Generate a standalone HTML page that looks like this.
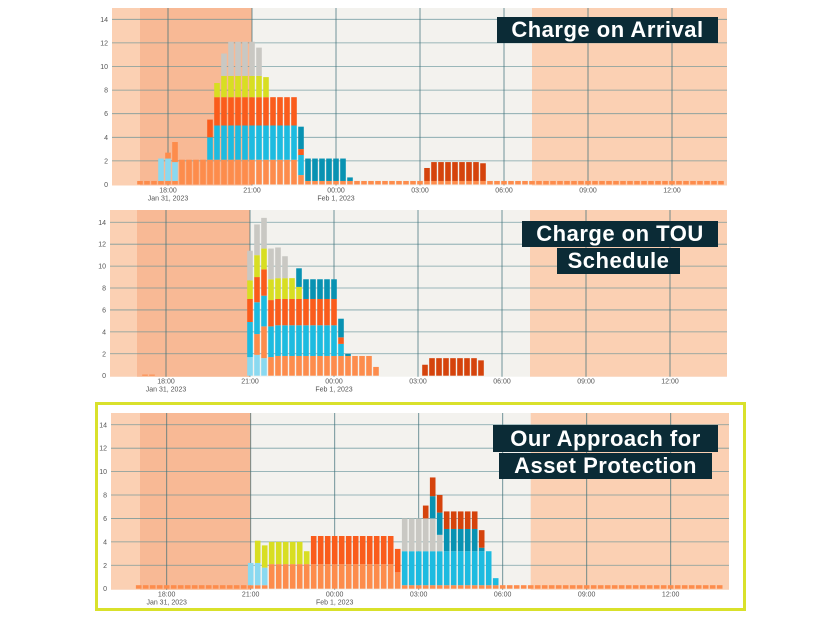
<!DOCTYPE html>
<html><head><meta charset="utf-8"><style>
body{margin:0;background:#fff;width:826px;height:620px;overflow:hidden}
svg{display:block}
.t{font-family:"Liberation Sans",sans-serif;font-size:7px;fill:#555}
.h{font-family:"Liberation Sans",sans-serif;font-size:22px;font-weight:bold;fill:#fff;letter-spacing:0.5px}
</style></head><body>
<svg id="s" width="826" height="620" xmlns="http://www.w3.org/2000/svg"></svg>
<script>
const C={lo:'#fd8c4c',or:'#fa5c1c',bl:'#1dbbe0',te:'#0892b2',lb:'#8ad9f0',ye:'#d8de22',gr:'#c9c8c3',dk:'#d5430c'};
const s=document.getElementById('s');let h='';
function chart(p,data,base){
 const X=i=>p.x18+7*i, Y=v=>p.y0-v*p.ppu;
 const b=p.y0+1;
 h+=`<rect x="${p.left}" y="${p.top}" width="${p.right-p.left}" height="${b-p.top}" fill="#f3f2ee"/>`;
 h+=`<rect x="${p.left}" y="${p.top}" width="${X(12)-p.left}" height="${b-p.top}" fill="#fbd0b3"/>`;
 h+=`<rect x="${p.band}" y="${p.top}" width="${X(12)-p.band}" height="${b-p.top}" fill="#f8b995"/>`;
 h+=`<rect x="${X(52)}" y="${p.top}" width="${p.right-X(52)}" height="${b-p.top}" fill="#fbd0b3"/>`;
 for(let v=2;v<=14;v+=2)h+=`<line x1="${p.left}" x2="${p.right}" y1="${Y(v)}" y2="${Y(v)}" stroke="#5f8f96" stroke-width="0.8" opacity="0.8"/>`;
 const labs=['18:00','21:00','00:00','03:00','06:00','09:00','12:00'];
 for(let k=0;k<7;k++){const x=X(12*k);h+=`<line x1="${x}" x2="${x}" y1="${p.top}" y2="${b}" stroke="#3d6f78" stroke-width="0.9" opacity="0.8"/>`;
  h+=`<text class="t" x="${x}" y="${b+7}" text-anchor="middle">${labs[k]}</text>`;}
 h+=`<text class="t" x="${X(0)}" y="${b+15}" text-anchor="middle">Jan 31, 2023</text>`;
 h+=`<text class="t" x="${X(24)}" y="${b+15}" text-anchor="middle">Feb 1, 2023</text>`;
 for(let v=0;v<=14;v+=2)h+=`<text class="t" x="${p.left-4}" y="${Y(v)+2.5}" text-anchor="end">${v}</text>`;
 for(let i=-4;i<=79;i++){
  let segs=data[i]||(base&&i>=base[0]&&i<=base[1]?[['lo',0.3]]:null);
  if(!segs)continue;let prev=0;
  for(const [c,t] of segs){if(t>prev)h+=`<rect x="${X(i)-2.8}" y="${Y(t)}" width="5.6" height="${(t-prev)*p.ppu}" fill="${C[c]}"/>`;prev=t;}
 }
}
function R(a,b,segs,d){for(let i=a;i<=b;i++)d[i]=segs;}
// chart1
let d1={};
R(-1,-1,[['lo',0.3],['lb',2.2]],d1);d1[0]=[['lo',0.3],['lb',2.2],['lo',2.7]];d1[1]=[['lo',0.3],['lb',1.9],['lo',3.6]];
R(2,5,[['lo',2.1]],d1);d1[6]=[['lo',2.1],['bl',4.0],['or',5.5]];d1[7]=[['lo',2.1],['bl',5],['or',7.4],['ye',8.6]];
d1[8]=[['lo',2.1],['bl',5],['or',7.4],['ye',9.2],['gr',11.1]];R(9,12,[['lo',2.1],['bl',5],['or',7.4],['ye',9.2],['gr',12.1]],d1);
d1[13]=[['lo',2.1],['bl',5],['or',7.4],['ye',9.2],['gr',11.6]];d1[14]=[['lo',2.1],['bl',5],['or',7.4],['ye',9.1]];
R(15,18,[['lo',2.1],['bl',5],['or',7.4]],d1);d1[19]=[['lo',0.8],['bl',2.5],['or',3.0],['te',4.9]];
R(20,25,[['lo',0.3],['te',2.2]],d1);d1[26]=[['lo',0.3],['te',0.6]];
d1[37]=[['lo',0.3],['dk',1.4]];R(38,44,[['lo',0.3],['dk',1.9]],d1);d1[45]=[['lo',0.3],['dk',1.8]];
chart({top:8,y0:184.5,ppu:11.8,x18:168,left:112,right:727,band:140},d1,[-4,79]);
// chart2
let d2={};
d2[-3]=[['lo',0.1]];d2[-2]=[['lo',0.1]];
d2[12]=[['lb',1.7],['bl',4.9],['or',7.0],['ye',8.7],['gr',11.4]];
d2[13]=[['lb',1.9],['lo',3.8],['bl',6.7],['or',9.0],['ye',11.0],['gr',13.8]];
d2[14]=[['lb',1.6],['lo',4.5],['bl',7.3],['or',9.7],['ye',11.6],['gr',14.4]];
d2[15]=[['lo',1.7],['bl',4.5],['or',6.9],['ye',8.8],['gr',11.6]];
d2[16]=[['lo',1.8],['bl',4.6],['or',7.0],['ye',8.9],['gr',11.7]];
d2[17]=[['lo',1.8],['bl',4.6],['or',7.0],['ye',8.9],['gr',10.9]];
d2[18]=[['lo',1.8],['bl',4.6],['or',7.0],['ye',8.9]];
d2[19]=[['lo',1.8],['bl',4.6],['or',7.0],['ye',8.1],['te',9.8]];
R(20,24,[['lo',1.8],['bl',4.6],['or',7.0],['te',8.8]],d2);
d2[25]=[['lo',1.8],['bl',2.9],['or',3.5],['te',5.2]];d2[26]=[['lo',1.8],['te',2.0]];
R(27,29,[['lo',1.8]],d2);d2[30]=[['lo',0.8]];
d2[37]=[['dk',1.0]];R(38,44,[['dk',1.6]],d2);d2[45]=[['dk',1.4]];
chart({top:210,y0:375.7,ppu:10.96,x18:166,left:110,right:727,band:137},d2,null);
// chart3
let d3={};
d3[12]=[['lo',0.3],['lb',2.2]];d3[13]=[['lo',0.3],['lb',2.2],['ye',4.1]];d3[14]=[['lo',0.3],['lb',1.8],['ye',3.7]];
R(15,19,[['lo',2.1],['ye',4.0]],d3);d3[20]=[['lo',2.1],['ye',3.2]];
R(21,32,[['lo',2.1],['or',4.5]],d3);d3[33]=[['lo',1.4],['or',3.4]];
R(34,36,[['lo',0.3],['bl',3.2],['gr',6.0]],d3);d3[37]=[['lo',0.3],['bl',3.2],['gr',6.0],['dk',7.1]];
d3[38]=[['lo',0.3],['bl',3.2],['gr',6.0],['te',7.9],['dk',9.5]];
d3[39]=[['lo',0.3],['bl',3.2],['gr',4.6],['te',6.5],['dk',8.0]];
R(40,44,[['lo',0.3],['bl',3.2],['te',5.1],['dk',6.6]],d3);
d3[45]=[['lo',0.3],['bl',3.2],['te',3.5],['dk',5.0]];d3[46]=[['lo',0.3],['bl',3.2]];d3[47]=[['lo',0.3],['bl',0.9]];
chart({top:413,y0:588.7,ppu:11.71,x18:166.7,left:111,right:729,band:140},d3,[-4,79]);
// titles
function T(x,y,w,hh,txt){h+=`<rect x="${x}" y="${y}" width="${w}" height="${hh}" fill="#0b2b36"/><text class="h" x="${x+w/2}" y="${y+hh-6}" text-anchor="middle">${txt}</text>`;}
T(497,17,221,26,'Charge on Arrival');T(522,221,196,26,'Charge on TOU');T(557,248,123,26,'Schedule');
T(493,425,225,27,'Our Approach for');T(499,453,213,26,'Asset Protection');
h+=`<rect x="96.5" y="403.5" width="648" height="206" fill="none" stroke="#d9e12b" stroke-width="3"/>`;
s.innerHTML=h;
</script>
</body></html>
